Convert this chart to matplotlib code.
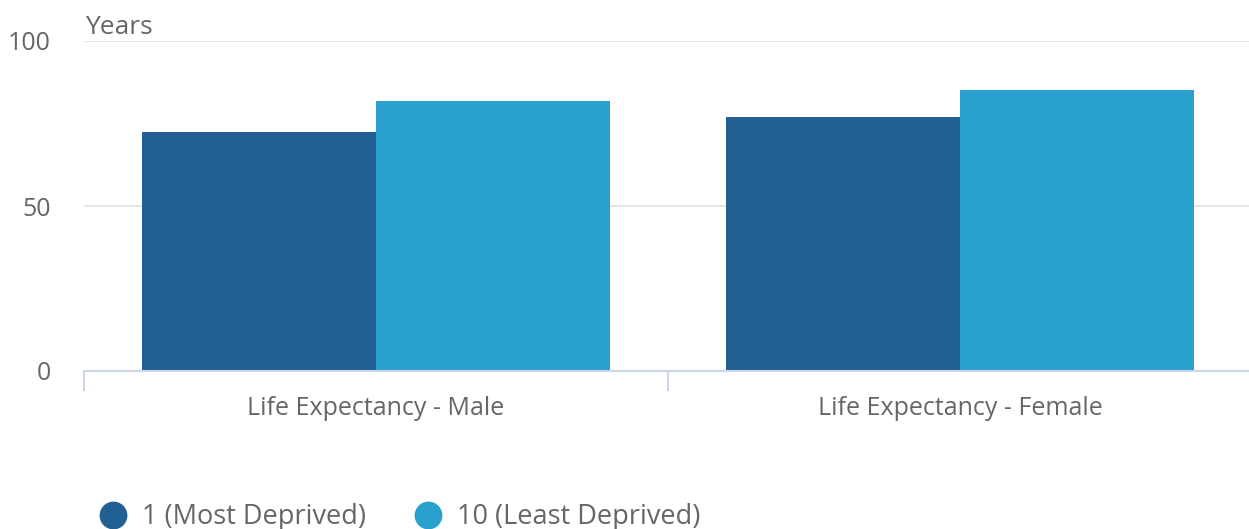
import numpy as np
import matplotlib
matplotlib.use("Agg")
import matplotlib.pyplot as plt
from matplotlib.lines import Line2D

# data
categories = ["Life Expectancy - Male", "Life Expectancy - Female"]
series_names = ["1 (Most Deprived)", "10 (Least Deprived)"]
most_deprived = [72.3, 77.1]
least_deprived = [81.8, 85.2]
colors = ["#226093", "#29A0CD"]
y_ticks = [0, 50, 100]

plt.rcParams['font.family'] = ['Open Sans', 'DejaVu Sans']

fig = plt.figure(figsize=(12.49, 5.29), dpi=100)
ax = fig.add_axes([84 / 1249, 1 - 371 / 529, (1252 - 84) / 1249, 330 / 529])

x = np.arange(len(categories))
w = 0.4
ax.bar(x - w / 2, most_deprived, w, color=colors[0], zorder=3)
ax.bar(x + w / 2, least_deprived, w, color=colors[1], zorder=3)

ax.set_xlim(-0.5, len(categories) - 0.5)
ax.set_ylim(0, 100)
ax.set_yticks(y_ticks)
ax.set_yticklabels([str(t) for t in y_ticks], fontsize=18, color="#666666")
ax.tick_params(axis="y", length=0, pad=24)
for lab in ax.get_yticklabels():
    lab.set_verticalalignment("center_baseline")
ax.yaxis.grid(True, color="#e6e6e6", linewidth=1.5, zorder=0)

# category labels and boundary ticks
ax.set_xticks(x)
ax.set_xticklabels(categories, fontsize=18, color="#666666")
ax.tick_params(axis="x", length=0, pad=18)
ax.set_xticks(np.arange(len(categories) + 1) - 0.5, minor=True)
ax.tick_params(axis="x", which="minor", length=14.5, color="#ccd6eb", width=1.5)

for s in ["top", "right", "left"]:
    ax.spines[s].set_visible(False)
ax.spines["bottom"].set_color("#ccd6eb")
ax.spines["bottom"].set_linewidth(1.5)
ax.spines["bottom"].set_zorder(4)

fig.text(85 / 1249, 1 - 27 / 529, "Years", fontsize=19, color="#666666",
         ha="left", va="center")

handles = [Line2D([], [], marker="o", linestyle="none", markersize=19,
                  markerfacecolor=c, markeredgecolor=c) for c in colors]
fig.legend(handles, series_names, loc="lower left",
           bbox_to_anchor=(62 / 1249, -0.05), ncol=2, frameon=False,
           fontsize=19.5, labelcolor="#666666", handletextpad=0.05,
           columnspacing=1.3)

fig.savefig("out.png", dpi=100)
